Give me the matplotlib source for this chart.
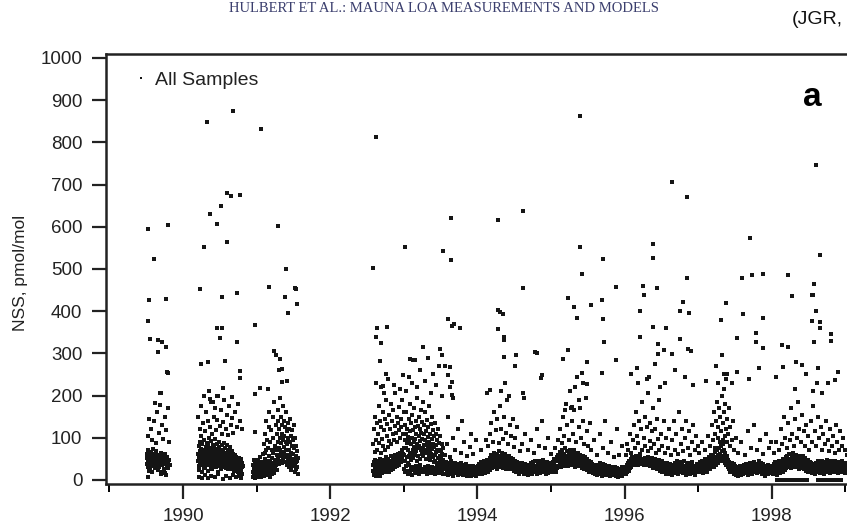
import numpy as np
import matplotlib
matplotlib.use("Agg")
from matplotlib import pyplot as plt

# NSS samples: (day of year, pmol/mol)
samples_1989 = [
    (186,52),(188,38),(189,61),(191,45),(192,70),(193,30),(195,55),(196,42),(198,64),(199,35),
    (201,48),(203,58),(204,27),(206,44),(208,66),(209,51),(211,36),(213,59),(215,47),(216,73),
    (218,40),(220,55),(222,33),(224,62),(226,49),(228,28),(230,57),(232,43),(234,68),(236,38),
    (238,52),(241,45),(243,60),(246,31),(248,54),(251,41),(254,65),(257,48),(260,36),(263,58),
    (266,44),(269,25),(272,52),(275,39),(278,62),(281,47),(284,33),(287,55),(290,42),(293,28),
    (296,48),(299,36),(190,8),(258,15),(283,12),(197,22),(214,18),(239,24),(262,20),(276,16),
    (194,105),(205,120),(212,95),(221,140),(231,88),(237,160),(244,112),(250,178),(262,130),
    (268,98),(274,150),(280,118),(289,171),(295,90),(197,145),(225,182),
    (190,595),(223,524),(292,604),(197,427),(281,429),(194,377),(201,334),(241,332),(259,327),
    (281,315),(241,303),(285,256),(292,253),(252,206),(256,206),
]

samples_1990 = [
    (75,45),(76,62),(78,33),(79,80),(81,52),(82,24),(84,68),(85,41),(87,90),(88,57),(90,35),
    (91,74),(93,48),(94,18),(96,63),(97,85),(99,39),(100,55),(102,72),(103,28),(105,60),(106,95),
    (108,44),(109,66),(111,31),(112,78),(114,53),(115,40),(117,88),(118,61),(120,36),(121,70),
    (123,50),(124,22),(126,82),(127,58),(129,45),(130,100),(132,64),(133,38),(135,76),(136,54),
    (138,30),(139,92),(141,67),(142,47),(144,71),(145,26),(147,58),(148,84),(150,42),(151,63),
    (153,35),(154,79),(156,55),(157,98),(159,40),(160,68),(162,50),(163,30),(165,74),(166,60),
    (168,44),(169,86),(171,36),(172,65),(174,52),(175,20),(177,77),(178,57),(180,41),(181,90),
    (183,62),(184,33),(186,70),(187,48),(189,27),(190,66),(192,54),(193,82),(195,38),(196,59),
    (198,45),(199,72),(201,31),(202,63),(204,50),(205,88),(207,36),(208,56),(210,43),(211,75),
    (213,28),(214,61),(216,47),(217,84),(219,35),(220,58),(222,40),(223,70),(225,25),(226,52),
    (228,66),(229,38),(231,48),(233,78),(235,32),(237,57),(239,44),(241,69),(243,27),(245,53),
    (247,40),(249,62),(251,34),(253,50),(255,22),(257,46),(259,60),(261,30),(263,42),(265,55),
    (267,26),(269,38),(271,48),(273,20),(275,35),(277,52),(279,28),(281,44),(283,18),(285,36),
    (287,50),(289,24),(291,40),(293,30),(295,15),(297,33),
    (80,8),(95,5),(110,12),(125,4),(140,10),(160,6),(176,14),(200,3),(215,9),(232,5),(246,12),
    (262,6),(278,10),(290,4),
    (77,150),(83,120),(89,105),(92,175),(98,135),(104,198),(110,115),(116,160),(122,140),
    (128,210),(134,125),(140,185),(146,108),(152,150),(158,170),(164,118),(170,142),(176,200),
    (182,128),(188,165),(194,110),(200,138),(206,190),(212,122),(218,155),(224,106),(230,175),
    (236,130),(242,148),(250,112),(258,160),(266,125),(274,180),(282,140),(292,120),
    (84,452),(106,552),(119,848),(135,630),(168,607),(190,649),(219,680),(237,673),(281,675),
    (219,564),(248,874),(194,434),(267,443),(168,360),(194,360),(183,336),(267,327),(88,275),
    (124,280),(208,282),(281,258),(281,242),(197,218),(168,199),(135,192),(150,185),(245,197),
    (347,20),(349,35),(350,8),(352,48),(354,15),(355,28),(357,5),(359,40),(360,114),(361,18),
    (363,30),(364,10),(358,367),(358,204),
]

samples_1991 = [
    (1,25),(3,12),(5,38),(7,20),(9,48),(11,8),(13,30),(15,55),(17,16),(19,35),(21,22),(23,6),
    (25,42),(27,18),(29,30),(31,62),(33,14),(35,40),(37,26),(39,10),(41,50),(43,20),(45,34),
    (47,70),(49,15),(51,28),(53,44),(55,12),(57,36),(59,24),(61,58),(63,18),(65,30),(67,8),
    (69,46),(71,22),(73,38),(75,14),(77,52),(79,28),(81,64),(83,20),(85,40),(87,32),(89,16),
    (91,48),(93,26),(95,72),(97,36),(99,24),
    (36,85),(40,110),(44,65),(48,140),(52,95),(56,75),(60,125),(64,160),(68,90),(72,118),
    (76,70),(80,150),(84,100),(88,185),(92,80),(96,130),(100,110),(102,60),(104,165),(106,90),
    (108,140),(110,75),(112,120),(114,195),(116,100),(118,70),(120,150),(122,88),(124,130),
    (126,62),(128,110),(130,175),(132,95),(134,78),(136,140),(138,105),(140,60),(142,125),
    (144,90),(146,160),(148,72),(150,115),(152,85),(154,135),(156,55),(158,100),(160,70),
    (162,120),(164,48),(166,90),(168,145),(170,65),(172,105),(174,80),(176,40),(178,118),
    (180,62),(182,95),(184,50),(186,130),(188,75),(190,35),(192,100),(194,58),(196,80),
    (198,42),(200,68),(202,30),(204,52),
    (101,45),(105,52),(109,38),(113,58),(117,44),(121,62),(125,40),(129,55),(133,48),(137,66),
    (141,42),(145,54),(149,36),(153,60),(157,46),(161,30),(165,58),(169,40),(173,24),(177,50),
    (181,32),(185,44),(189,20),(193,38),(197,26),(201,45),(205,15),
    (22,832),(106,602),(146,500),(62,457),(190,455),(142,434),(194,452),(201,417),(157,395),
    (88,306),(95,296),(117,287),(110,261),(124,263),(124,232),(150,235),(18,218),(55,216),
]

samples_1992 = [
    (213,22),(215,35),(218,14),(220,42),(223,28),(225,48),(228,19),(230,33),(233,45),(235,25),
    (238,38),(240,12),(243,30),(245,50),(248,21),(250,40),(253,27),(255,44),(258,16),(260,36),
    (263,29),(265,47),(268,23),(270,39),(273,31),(275,55),(278,18),(280,43),(283,34),(285,26),
    (288,49),(290,37),(293,20),(295,45),(298,30),(300,58),(303,24),(305,41),(308,35),(310,52),
    (313,27),(315,46),(318,38),(320,60),(323,30),(325,44),(328,55),(330,33),(333,48),(335,62),
    (338,40),(340,53),(343,36),(345,65),(348,47),(350,58),(353,42),(355,70),(358,50),(360,61),
    (363,45),(365,75),(216,12),(222,20),(229,9),(236,16),(242,24),(249,10),(256,18),
    (214,85),(217,120),(221,66),(224,150),(227,95),(231,135),(234,72),(237,110),(241,175),
    (244,88),(247,140),(251,64),(254,125),(257,98),(261,160),(264,80),(267,118),(271,145),
    (274,70),(277,190),(281,105),(284,132),(287,78),(291,155),(294,92),(297,122),(301,180),
    (304,86),(307,140),(311,110),(314,165),(317,95),(321,128),(324,205),(327,112),(331,150),
    (334,90),(337,135),(341,118),(344,172),(347,100),(351,145),(354,125),(357,190),(361,108),
    (364,160),(226,230),(252,220),(286,240),(318,225),(349,215),
    (215,502),(226,813),(234,360),(281,363),(226,339),(252,325),(248,282),(278,251),
    (260,222),(265,206),(362,249),
]

samples_1993 = [
    (2,60),(4,95),(5,130),(7,45),(9,110),(10,75),(12,160),(14,55),(15,88),(17,120),(19,40),
    (20,102),(22,70),(24,145),(25,58),(27,92),(29,180),(30,65),(32,115),(34,48),(35,85),
    (37,135),(39,62),(40,100),(42,155),(44,72),(45,118),(47,52),(49,90),(50,170),(52,78),
    (54,125),(55,60),(57,98),(59,140),(60,68),(62,110),(64,45),(65,85),(67,195),(69,75),
    (70,128),(72,58),(74,105),(75,150),(77,80),(79,120),(80,50),(82,92),(84,165),(85,70),
    (87,112),(89,62),(90,98),(92,138),(94,76),(95,185),(97,56),(99,108),(100,82),(102,130),
    (104,66),(105,94),(107,160),(109,72),(110,115),(112,50),(114,88),(115,142),(117,64),
    (119,102),(120,78),(122,125),(124,58),(125,90),(127,175),(129,70),(130,110),(132,48),
    (134,84),(135,132),(137,62),(139,96),(140,74),(142,150),(144,55),(145,86),(147,118),
    (149,42),(150,78),(152,105),(154,60),(155,135),(157,45),(159,82),(160,66),(162,110),
    (164,38),(165,72),(167,95),(169,52),(170,122),(172,40),(174,68),(175,88),(177,35),
    (179,58),(180,105),(182,44),(184,70),(185,30),(187,55),(189,85),(190,38),(192,62),
    (194,28),(195,48),(197,75),(199,32),
    (3,25),(8,18),(13,32),(18,22),(23,15),(28,35),(33,20),(38,28),(43,12),(48,30),(53,24),
    (58,16),(63,34),(68,22),(73,28),(78,14),(83,36),(88,20),(93,26),(98,18),(103,30),(108,24),
    (113,15),(118,33),(123,21),(128,27),(133,17),(138,31),(143,22),(148,26),(153,14),(158,29),
    (163,20),(168,25),(173,16),(178,28),(183,19),(188,23),(193,15),(198,26),
    (11,210),(26,245),(41,230),(56,285),(66,220),(81,260),(96,315),(106,235),(121,290),
    (136,205),(146,250),(161,225),(176,270),(191,200),(31,287),(46,284),
    (201,25),(204,38),(206,15),(209,30),(211,42),(214,20),(216,33),(219,12),(221,27),(224,40),
    (226,18),(229,31),(231,24),(234,45),(236,14),(239,29),(241,36),(244,21),(246,10),(249,34),
    (251,26),(254,40),(256,16),(259,28),(261,37),(264,19),(266,31),(269,11),(271,25),(274,38),
    (276,22),(279,33),(281,14),(284,28),(286,40),(289,18),(291,30),(294,24),(296,12),(299,35),
    (301,20),(304,29),(306,16),(309,38),(311,23),(314,10),(316,32),(319,26),(321,18),(324,34),
    (326,21),(329,13),(331,30),(334,24),(336,9),(339,27),(341,19),(344,33),(346,15),(349,25),
    (351,11),(354,29),(356,20),(359,14),(361,31),(364,22),
    (302,16),(307,24),(312,18),(317,14),(322,22),(327,16),(332,12),(337,20),(342,15),(347,21),
    (352,17),(357,10),(362,18),
    (205,60),(215,85),(228,55),(243,100),(255,70),(268,120),(282,65),(297,90),(312,58),
    (330,78),(345,62),(360,95),(222,150),(290,140),(335,110),
    (7,552),(194,543),(234,521),(234,621),(219,382),(241,365),(248,370),(277,360),(179,310),
    (190,296),(204,270),(221,249),(230,268),(230,220),(241,232),(241,201),(245,194),
]

samples_1994 = [
    (1,20),(3,32),(5,14),(8,27),(10,38),(12,18),(15,30),(17,22),(19,42),(22,15),(24,28),
    (26,35),(29,20),(31,44),(33,25),(36,16),(38,33),(40,40),(43,22),(45,30),(47,48),(50,26),
    (52,36),(54,19),(57,45),(59,30),(61,52),(64,24),(66,38),(68,60),(71,32),(73,46),(75,28),
    (78,55),(80,40),(82,64),(85,30),(87,50),(89,36),(92,58),(94,44),(96,26),(99,62),(101,38),
    (103,52),(106,33),(108,68),(110,45),(113,30),(115,56),(117,42),(120,64),(122,35),(124,50),
    (127,28),(129,58),(131,40),(134,48),(136,32),(138,62),(141,44),(143,26),(145,54),(148,38),
    (150,46),(152,30),(155,58),(157,36),(159,48),(162,25),(164,42),(166,52),(169,34),(171,45),
    (173,28),(176,40),(178,50),(180,22),(183,36),(185,44),(187,30),(190,18),(192,38),(194,27),
    (197,42),(199,20),(201,33),(204,25),(206,40),(208,15),(211,30),(213,22),(215,36),(218,18),
    (220,28),(222,40),(225,24),(227,33),(229,14),(232,30),(234,20),(236,38),(239,26),(241,16),
    (243,34),(246,22),(248,30),(250,12),(253,28),(255,36),(257,18),(260,32),(262,24),(264,40),
    (267,20),(269,30),(271,15),(274,35),(276,25),(278,42),(281,18),(283,32),(285,27),(288,45),
    (290,22),(292,34),(295,14),(297,30),(299,38),(302,20),(304,28),(306,44),(309,24),(311,36),
    (313,16),(316,30),(318,40),(320,22),(323,33),(325,26),(327,48),(330,18),(332,32),(334,38),
    (337,24),(339,14),(341,30),(344,42),(346,20),(348,34),(351,28),(353,16),(355,38),(358,25),
    (360,32),(362,18),(365,40),
    (20,70),(41,95),(55,80),(63,110),(70,135),(77,90),(84,160),(91,118),(98,145),(105,88),
    (112,175),(119,120),(126,98),(133,150),(140,112),(147,190),(154,85),(161,130),(168,105),
    (175,145),(182,78),(189,100),(196,125),(210,68),(224,85),(238,110),(252,72),(266,95),
    (280,65),(294,120),(308,80),(322,140),(336,75),(350,100),(364,62),(116,210),(137,230),
    (158,200),
    (102,616),(226,637),(226,455),(102,403),(113,398),(128,393),(102,358),(131,339),(131,332),
    (131,291),(186,270),(190,296),(285,303),(296,301),(321,249),(318,242),(226,206),(230,194),
    (62,213),(48,206),
]

samples_1995 = [
    (1,22),(3,35),(6,18),(8,42),(10,28),(13,50),(15,24),(17,38),(20,30),(22,46),(24,20),
    (27,34),(29,55),(31,28),(34,44),(36,60),(38,32),(41,50),(43,38),(45,66),(48,30),(50,48),
    (52,58),(55,36),(57,70),(59,42),(62,54),(64,34),(66,62),(69,45),(71,75),(73,38),(76,56),
    (78,48),(80,68),(83,40),(85,58),(87,32),(90,64),(92,46),(94,72),(97,38),(99,55),(101,44),
    (104,66),(106,35),(108,58),(111,48),(113,70),(115,40),(118,52),(120,30),(122,62),(125,44),
    (127,56),(129,36),(132,50),(134,64),(136,40),(139,54),(141,32),(143,48),(146,60),(148,38),
    (150,52),(153,28),(155,45),(157,56),(160,34),(162,48),(164,26),(167,42),(169,54),(171,30),
    (174,44),(176,36),(178,50),(181,24),(183,40),(185,32),(188,46),(190,20),(192,36),(195,28),
    (197,42),(199,18),(202,32),(204,25),(206,38),(209,16),(211,30),(213,22),(216,35),(218,14),
    (220,28),(223,20),(225,33),(227,12),(230,26),(232,36),(234,18),(237,30),(239,22),(241,40),
    (244,15),(246,28),(248,34),(251,20),(253,10),(255,30),(258,24),(260,38),(262,16),(265,28),
    (267,20),(269,35),(272,12),(274,26),(276,32),(279,18),(281,28),(283,14),(286,24),(288,34),
    (290,20),(293,10),(295,26),(297,18),(300,30),(302,14),(304,22),(307,28),(309,12),(311,20),
    (314,26),(316,16),(318,30),(321,10),(323,22),(325,18),(328,28),(330,14),(332,24),(335,8),
    (337,20),(339,16),(342,26),(344,12),(346,22),(349,18),(351,30),(353,10),(356,24),(358,16),
    (360,28),(363,20),(365,14),
    (292,16),(298,22),(303,12),(308,18),(313,24),(319,14),(324,20),(329,10),(334,16),(340,22),
    (345,14),(350,20),(355,12),(361,18),
    (18,75),(33,95),(46,120),(53,88),(60,150),(67,105),(74,180),(81,130),(88,95),(95,210),
    (102,140),(109,110),(116,165),(123,90),(130,245),(137,125),(144,170),(151,100),(158,140),
    (165,85),(172,195),(179,115),(186,80),(193,135),(200,70),(214,95),(228,60),(242,110),
    (256,75),(270,140),(284,65),(298,90),(312,55),(326,120),(340,60),(354,80),(69,165),
    (99,171),(106,173),(140,190),(160,230),
    (142,863),(142,552),(259,524),(153,488),(321,457),(84,431),(113,410),(128,384),(197,415),
    (252,427),(259,381),(263,327),(321,284),(84,308),(58,287),(179,280),(153,253),(252,253),
    (179,227),(120,220),
]

samples_1996 = [
    (1,20),(3,30),(6,15),(8,26),(10,35),(13,18),(15,28),(17,40),(20,22),(22,32),(24,45),
    (27,28),(29,38),(31,50),(34,30),(36,42),(38,55),(41,35),(43,46),(45,40),(48,52),(50,36),
    (52,48),(55,44),(57,58),(59,38),(62,47),(64,42),(66,50),(69,36),(71,45),(73,48),(76,40),
    (78,52),(80,44),(83,46),(85,38),(87,50),(90,42),(92,47),(94,36),(97,45),(99,52),(101,40),
    (104,46),(106,44),(108,35),(111,48),(113,42),(115,55),(118,38),(120,46),(122,44),(125,50),
    (127,32),(129,45),(132,42),(134,52),(136,38),(139,46),(141,28),(143,44),(146,48),(148,36),
    (150,42),(153,50),(155,30),(157,45),(160,40),(162,25),(164,44),(167,36),(169,48),(171,28),
    (174,40),(176,34),(178,22),(181,38),(183,30),(185,44),(188,20),(190,34),(192,26),(195,40),
    (197,18),(199,32),(202,24),(204,36),(206,15),(209,28),(211,40),(213,22),(216,32),(218,26),
    (220,14),(223,30),(225,38),(227,20),(230,28),(232,34),(234,12),(237,25),(239,36),(241,18),
    (244,30),(246,22),(248,40),(251,16),(253,28),(255,34),(258,20),(260,45),(262,24),(265,30),
    (267,14),(269,36),(272,22),(274,28),(276,42),(279,18),(281,32),(283,24),(286,38),(288,16),
    (290,30),(293,26),(295,44),(297,20),(300,34),(302,28),(304,12),(307,30),(309,38),(311,22),
    (314,26),(316,40),(318,18),(321,32),(323,24),(325,14),(328,30),(330,36),(332,20),(335,28),
    (337,42),(339,16),(342,30),(344,22),(346,34),(349,26),(351,12),(353,32),(356,20),(358,38),
    (360,24),(363,30),(365,18),
    (5,60),(12,85),(19,70),(26,110),(33,65),(40,95),(47,130),(54,75),(58,160),(61,105),
    (68,88),(72,140),(75,62),(82,120),(86,185),(89,72),(96,100),(100,150),(103,80),(110,125),
    (114,68),(117,205),(124,92),(128,135),(131,75),(138,115),(142,170),(145,85),(152,120),
    (156,65),(159,145),(166,98),(170,72),(173,190),(180,110),(187,80),(194,140),(201,65),
    (208,100),(215,75),(222,120),(229,60),(236,95),(243,140),(250,70),(257,110),(264,62),
    (271,160),(278,85),(285,120),(292,68),(299,100),(306,140),(313,75),(320,115),(327,60),
    (334,90),(341,130),(348,70),(355,105),(362,80),(65,230),(121,245),(177,220),
    (30,250),(60,265),(110,240),(150,275),(200,230),(250,260),(300,245),(340,225),
    (92,460),(161,455),(95,438),(77,400),(289,422),(274,400),(318,395),(143,363),(205,360),
    (77,339),(274,334),(165,322),(194,308),(165,299),(234,299),(315,310),(329,306),(234,706),
    (311,671),(143,559),(143,526),(311,479),
]

samples_1997 = [
    (1,25),(3,36),(6,18),(8,30),(10,42),(13,22),(15,34),(17,46),(20,26),(22,38),(24,16),
    (27,32),(29,44),(31,24),(34,36),(36,50),(38,28),(41,40),(43,20),(45,34),(48,46),(50,30),
    (52,55),(55,36),(57,44),(59,26),(62,50),(64,38),(66,60),(69,34),(71,48),(73,40),(76,58),
    (78,30),(80,52),(83,44),(85,66),(87,36),(90,55),(92,46),(94,70),(97,40),(99,60),(101,50),
    (104,75),(106,44),(108,62),(111,52),(113,80),(115,46),(118,68),(120,56),(122,85),(125,48),
    (127,72),(129,58),(132,40),(134,64),(136,50),(139,36),(141,56),(143,44),(146,30),(148,48),
    (150,38),(153,26),(155,42),(157,32),(160,20),(162,36),(164,28),(167,40),(169,18),(171,32),
    (174,24),(176,38),(178,14),(181,28),(183,20),(185,34),(188,12),(190,26),(192,18),(195,30),
    (197,10),(199,24),(202,16),(204,28),(206,20),(209,34),(211,12),(213,26),(216,18),(218,30),
    (220,22),(223,14),(225,28),(227,36),(230,20),(232,30),(234,16),(237,26),(239,38),(241,22),
    (244,30),(246,12),(248,24),(251,34),(253,18),(255,28),(258,40),(260,22),(262,32),(265,14),
    (267,26),(269,36),(272,20),(274,30),(276,24),(279,42),(281,18),(283,30),(286,26),(288,38),
    (290,16),(293,28),(295,34),(297,20),(300,44),(302,26),(304,36),(307,18),(309,30),(311,40),
    (314,22),(316,32),(318,14),(321,28),(323,38),(325,20),(328,30),(330,24),(332,10),(335,26),
    (337,34),(339,18),(342,28),(344,22),(346,36),(349,14),(351,26),(353,32),(356,20),(358,28),
    (360,16),(363,30),(365,22),
    (5,65),(18,90),(33,70),(47,105),(60,80),(68,130),(75,95),(79,160),(82,110),(86,75),
    (89,140),(93,185),(96,100),(100,125),(103,170),(107,90),(110,150),(114,115),(117,200),
    (121,95),(124,135),(128,160),(131,105),(135,180),(138,120),(142,90),(145,145),(149,110),
    (152,170),(156,80),(160,125),(166,95),(173,140),(180,70),(190,100),(200,65),(215,90),
    (230,60),(245,115),(260,75),(275,130),(290,70),(305,95),(320,62),(335,110),(350,75),
    (362,90),(98,230),(126,215),(140,240),
    (40,235),(90,270),(130,250),(170,230),(250,240),(300,265),
    (139,419),(113,379),(223,393),(321,384),(288,348),(288,327),(321,313),(194,336),(117,296),
    (194,256),(142,251),(256,573),(219,479),(266,486),(321,488),
]

samples_1998 = [
    (1,20),(3,32),(6,14),(8,26),(10,38),(13,18),(15,30),(17,42),(20,22),(22,34),(24,12),
    (27,28),(29,40),(31,20),(34,32),(36,46),(38,24),(41,36),(43,16),(45,30),(48,44),(50,26),
    (52,38),(55,20),(57,50),(59,30),(62,42),(64,24),(66,36),(69,55),(71,28),(73,44),(76,34),
    (78,58),(80,30),(83,48),(85,38),(87,62),(90,34),(92,50),(94,42),(97,28),(99,55),(101,40),
    (104,64),(106,36),(108,48),(111,30),(113,58),(115,44),(118,36),(120,60),(122,42),(125,30),
    (127,52),(129,38),(132,46),(134,26),(136,56),(139,40),(141,34),(143,50),(146,28),(148,44),
    (150,36),(153,58),(155,30),(157,46),(160,40),(162,26),(164,52),(167,34),(169,44),(171,22),
    (174,38),(176,30),(178,48),(181,20),(183,36),(185,28),(188,42),(190,18),(192,34),(195,26),
    (197,40),(199,16),(202,30),(204,24),(206,38),(209,20),(211,32),(213,14),(216,28),(218,40),
    (220,22),(223,34),(225,18),(227,30),(230,44),(232,24),(234,36),(237,16),(239,28),(241,40),
    (244,20),(246,34),(248,26),(251,46),(253,22),(255,32),(258,14),(260,38),(262,28),(265,42),
    (267,20),(269,34),(272,26),(274,48),(276,18),(279,36),(281,30),(283,44),(286,22),(288,34),
    (290,16),(293,40),(295,28),(297,20),(300,36),(302,44),(304,24),(307,32),(309,18),(311,38),
    (314,26),(316,46),(318,20),(321,30),(323,40),(325,22),(328,34),(330,16),(332,28),(335,42),
    (337,24),(339,32),(342,18),(344,36),(346,26),(349,44),(351,20),(353,30),(356,38),(358,22),
    (360,28),(363,16),(365,34),
    (9,65),(23,90),(37,70),(46,120),(53,85),(60,150),(67,100),(74,75),(81,135),(88,95),
    (95,170),(102,110),(109,80),(116,145),(123,100),(130,185),(137,120),(144,90),(151,155),
    (158,115),(165,80),(172,130),(179,105),(186,70),(193,140),(200,90),(207,175),(214,115),
    (221,80),(228,150),(235,100),(242,125),(249,70),(256,110),(263,85),(270,140),(277,95),
    (284,68),(291,120),(298,80),(305,105),(312,65),(319,130),(326,90),(333,72),(340,115),
    (347,80),(354,100),(361,70),(205,210),(225,230),(250,205),
    (20,245),(120,280),(170,250),(230,265),(280,230),(330,255),
    (219,746),(237,533),(80,486),(208,464),(99,436),(201,438),(204,438),(219,400),(201,377),
    (237,374),(239,360),(212,327),(292,346),(292,329),(314,237),(117,216),(51,320),(80,315),
    (58,268),(150,273),
]

samples_1999 = [(1,28),(3,40),(5,22),(6,60),(8,34)]

# samples at the detection limit, drawn on the zero line in 1998
below_limit_1998 = [
    26,28,30,32,34,36,46,48,50,52,54,56,70,72,74,76,78,80,
    92,94,96,98,100,102,118,120,122,124,126,128,142,144,146,148,150,152,166,168,170,172,174,176,
    230,232,234,236,238,240,256,258,260,262,264,266,
    280,282,284,286,288,290,308,310,312,314,316,318,336,338,340,342,344,346,
]

all_samples = {
    1989: samples_1989, 1990: samples_1990, 1991: samples_1991, 1992: samples_1992,
    1993: samples_1993, 1994: samples_1994, 1995: samples_1995, 1996: samples_1996,
    1997: samples_1997, 1998: samples_1998, 1999: samples_1999,
}

t = []
nss = []
for year, pairs in all_samples.items():
    for doy, val in pairs:
        t.append(year + doy / 365.25)
        nss.append(val)
for doy in below_limit_1998:
    t.append(1998 + doy / 365.25)
    nss.append(1)

plt.rcParams['font.family'] = ['Liberation Sans', 'DejaVu Sans']

fig = plt.figure(figsize=(8.47, 5.27), dpi=100)
ax = fig.add_axes([0.1251, 0.0816, 0.902, 0.816])

ax.plot(t, nss, linestyle='none', marker='s', markersize=2.3, markeredgewidth=0,
        color='#151515', label='All Samples')

ax.set_xlim(1988.954, 1999.334)
ax.set_ylim(-9.5, 1009.5)

ax.set_xticks([1990, 1992, 1994, 1996, 1998])
ax.set_xticks([1989, 1991, 1993, 1995, 1997, 1999], minor=True)
ax.set_yticks(range(0, 1001, 100))

ax.tick_params(axis='x', which='major', direction='out', length=11, width=1.6,
               pad=6, labelsize=13.5, colors='#222222')
ax.tick_params(axis='x', which='minor', direction='out', length=6, width=1.4)
ax.tick_params(axis='y', which='major', direction='out', length=10, width=1.6,
               pad=7, labelsize=13.5, colors='#222222')

for side in ['left', 'bottom', 'top']:
    ax.spines[side].set_linewidth(1.8)
    ax.spines[side].set_color('#222222')
ax.spines['right'].set_visible(False)

ax.set_ylabel('NSS, pmol/mol', fontsize=12.5, color='#222222')
ax.yaxis.set_label_coords(-0.102, 0.49)

leg = ax.legend(loc='upper left', bbox_to_anchor=(0.018, 1.0), frameon=False,
                fontsize=14, handlelength=0.4, handletextpad=0.5, markerscale=0.8)
for txt in leg.get_texts():
    txt.set_color('#222222')

ax.text(0.925, 0.88, 'a', transform=ax.transAxes, fontsize=24, fontweight='bold',
        ha='center', va='baseline', family=['Liberation Sans Narrow', 'Liberation Sans'])

fig.text(0.27, 1 - 12 / 527, 'HULBERT ET AL.: MAUNA LOA MEASUREMENTS AND MODELS',
         fontsize=10.5, family=['Liberation Serif', 'DejaVu Serif'], color='#3b3f6e',
         ha='left', va='baseline')
fig.text(0.935, 1 - 24 / 527, '(JGR,', fontsize=14, color='#111111', ha='left',
         va='baseline')

fig.savefig('out.png', dpi=100)
